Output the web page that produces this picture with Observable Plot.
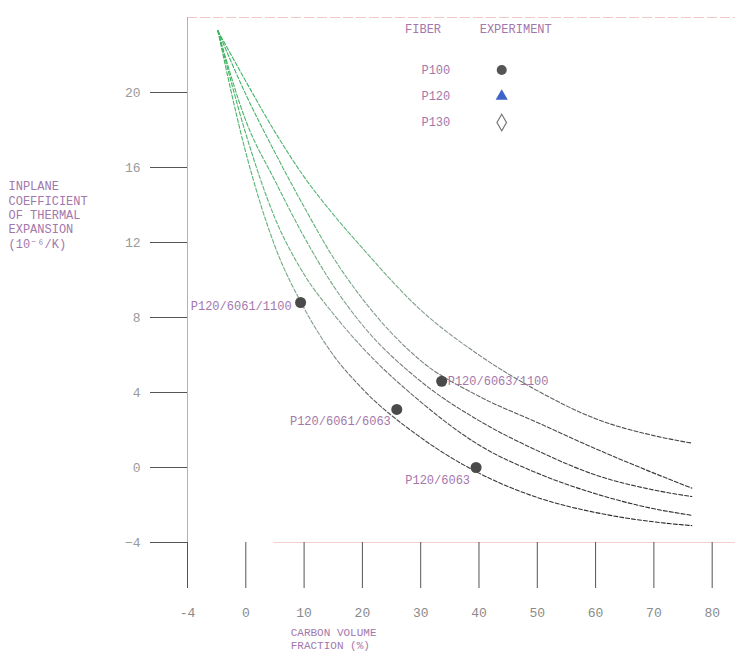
<!DOCTYPE html>
<html>
<head>
<meta charset="utf-8">
<script src="https://cdn.jsdelivr.net/npm/d3@7"></script>
<script src="https://cdn.jsdelivr.net/npm/@observablehq/plot@0.6"></script>
<style>
  html, body { margin: 0; padding: 0; background: #fff; }
</style>
</head>
<body>
<div id="chart"></div>
<script>
// ---- data ----
const xTicks = [-10, 0, 10, 20, 30, 40, 50, 60, 70, 80];
const xTickLabels = ["-4", "0", "10", "20", "30", "40", "50", "60", "70", "80"];
const yTicks = [-4, 0, 4, 8, 12, 16, 20];

const curveX = [-4.8, 0, 5, 10, 15, 20, 30, 40, 50, 60, 70, 76.5];
const curve1 = [23.3, 20.6, 17.9, 15.5, 13.5, 11.7, 8.4, 6.0, 4.1, 2.6, 1.7, 1.3];
const curve2 = [23.3, 19.9, 16.8, 13.9, 11.2, 9.0, 5.7, 3.8, 2.4, 1.0, -0.3, -1.1];
const curve3 = [23.3, 18.5, 15.3, 12.3, 9.7, 7.6, 4.6, 2.5, 0.9, -0.4, -1.2, -1.55];
const curve4 = [23.3, 17.8, 13.3, 10.3, 8.2, 6.4, 3.5, 1.2, -0.3, -1.4, -2.2, -2.55];
const curve5 = [23.3, 16.8, 11.8, 8.5, 6.0, 4.2, 1.6, -0.3, -1.6, -2.4, -2.9, -3.1];

const pointNames = ["P120/6061/1100", "P120/6061/6063", "P120/6063/1100", "P120/6063"];
const pointX = [9.4, 25.9, 33.6, 39.5];
const pointY = [8.8, 3.1, 4.6, 0.0];

const legendFibers = ["P100", "P120", "P130"];
const legendSymbols = ["circle", "triangle", "diamond"];

const yTitle = "INPLANE\nCOEFFICIENT\nOF THERMAL\nEXPANSION\n(10\u207B\u2076/K)";
const xTitle = "CARBON VOLUME\nFRACTION (%)";

// ---- tables built from the arrays ----
const curves = [curve1, curve2, curve3, curve4, curve5];
const curveData = curves.flatMap((ys, c) => curveX.map((x, i) => ({curve: c, x, y: ys[i]})));
const points = pointNames.map((name, i) => ({name, x: pointX[i], y: pointY[i]}));
const legendRowsY = legendFibers.map((_, i) => 21.2 - i * 1.4);
const legend = legendFibers.map((f, i) => ({fiber: f, symbol: legendSymbols[i], y: legendRowsY[i]}));

const purple = "#a377ab";
const font = "Liberation Mono, DejaVu Sans Mono, monospace";

const labelOpts = {
  "P120/6061/1100": {textAnchor: "end", dx: -9, dy: 4},
  "P120/6061/6063": {textAnchor: "end", dx: -6, dy: 12},
  "P120/6063/1100": {textAnchor: "start", dx: 6, dy: 0},
  "P120/6063": {textAnchor: "end", dx: -6, dy: 13}
};

const chart = Plot.plot({
  width: 752,
  height: 659,
  marginLeft: 187,
  marginRight: 17,
  marginTop: 17,
  marginBottom: 117,
  style: {fontFamily: font, background: "#fff", overflow: "visible"},
  x: {domain: [-10, 84], axis: null},
  y: {domain: [-4, 24], axis: null},
  marks: [
    // frame pieces
    Plot.ruleY([24], {stroke: "#f2c8c8", strokeDasharray: "10,3"}),
    Plot.ruleY([-4], {x1: 4.8, x2: 84, stroke: "#f6cfcf"}),
    // axes
    Plot.axisY({ticks: yTicks, anchor: "left", tickSize: 37, tickPadding: 10,
      stroke: "#555", fill: "#9a9a9a", fontSize: 13, label: null}),
    Plot.axisX({ticks: xTicks, anchor: "bottom", tickSize: 46, tickPadding: 19,
      tickFormat: d => xTickLabels[xTicks.indexOf(d)],
      stroke: "#555", fill: "#8a8a8a", fontSize: 13, label: null}),
    Plot.ruleX([-10], {stroke: "#ec9a9a"}),
    // model curves
    Plot.line(curveData, {x: "x", y: "y", z: "curve", curve: "monotone-x",
      stroke: "url(#fade)", strokeWidth: 1.1, strokeDasharray: "4,2"}),
    // experiment points
    Plot.dot(points, {x: "x", y: "y", r: 5.5, fill: "#4a4a4a"}),
    ...pointNames.map(n => Plot.text(points.filter(p => p.name === n), {
      x: "x", y: "y", text: "name", fill: purple, fontSize: 12, ...labelOpts[n]
    })),
    // legend
    Plot.text(["FIBER"], {x: 30.4, y: 23.4, text: d => d, fill: purple, fontSize: 12}),
    Plot.text(["EXPERIMENT"], {x: 46.3, y: 23.4, text: d => d, fill: purple, fontSize: 12}),
    Plot.text(legend, {x: 32.6, y: "y", text: "fiber", fill: purple, fontSize: 12}),
    Plot.dot(legend.filter(d => d.symbol === "circle"), {x: 43.9, y: "y", symbol: "circle", r: 5, fill: "#555"}),
    Plot.dot(legend.filter(d => d.symbol === "triangle"), {x: 43.9, y: "y", symbol: "triangle", r: 4.5, fill: "#3d63c9"}),
    Plot.dot(legend.filter(d => d.symbol === "diamond"), {x: 43.9, y: "y", symbol: "diamond", r: 5, fill: "#fff", stroke: "#777", strokeWidth: 1.2}),
    // axis titles
    Plot.text([yTitle], {x: -10, y: 13.5, text: d => d, textAnchor: "start", lineAnchor: "middle",
      dx: -179, fill: purple, fontSize: 12, lineHeight: 1.2}),
    Plot.text([xTitle], {x: 7.7, frameAnchor: "bottom", text: d => d, textAnchor: "start", lineAnchor: "top",
      dy: 84, fill: purple, fontSize: 11, lineHeight: 1.2})
  ]
});

// gradient for the curves (green at top, fading to dark at bottom)
const ys = chart.scale("y");
const defs = d3.select(chart).insert("defs", ":first-child");
const grad = defs.append("linearGradient")
  .attr("id", "fade").attr("gradientUnits", "userSpaceOnUse")
  .attr("x1", 0).attr("x2", 0)
  .attr("y1", ys.apply(24)).attr("y2", ys.apply(-4));
[[0, "#35b35a"], [0.4, "#5fb57a"], [0.6, "#8a9a90"], [0.8, "#444"], [1, "#222"]]
  .forEach(([o, c]) => grad.append("stop").attr("offset", o).attr("stop-color", c));

document.getElementById("chart").appendChild(chart);
</script>
</body>
</html>
